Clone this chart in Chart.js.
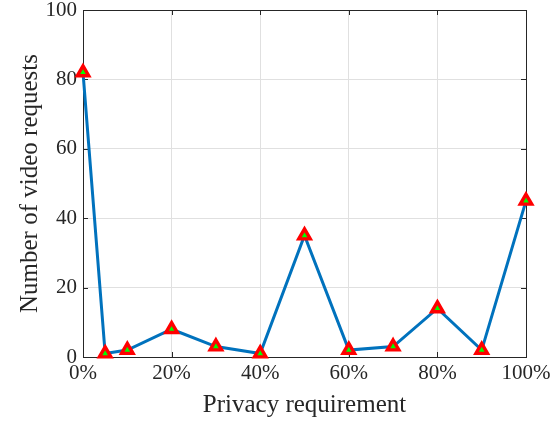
<!DOCTYPE html>
<html>
<head>
<meta charset="utf-8">
<script src="https://cdn.jsdelivr.net/npm/chart.js@4/dist/chart.umd.min.js"></script>
<style>
  html, body { margin: 0; padding: 0; background: #fff; }
  #wrap { width: 558px; height: 424px; }
</style>
</head>
<body>
<div id="wrap"><canvas id="c"></canvas></div>
<script>
// Privacy requirement levels (%) and number of video requests at each level
const privacyLevels = [0, 5, 10, 20, 30, 40, 50, 60, 70, 80, 90, 100];
const videoRequests = [82, 1, 2, 8, 3, 1, 35, 2, 3, 14, 2, 45];
const xTicks = [0, 20, 40, 60, 80, 100];
const yTicks = [0, 20, 40, 60, 80, 100];

const serif = '"Liberation Serif", "Times New Roman", serif';
const axisColor = '#262626';

// Closed axes box with inward tick marks on all four sides
const boxPlugin = {
  id: 'axesBox',
  beforeDatasetsDraw(chart) {
    const { ctx, chartArea: a, scales } = chart;
    const len = 5;
    ctx.save();
    ctx.strokeStyle = axisColor;
    ctx.lineWidth = 1;
    ctx.beginPath();
    xTicks.forEach(v => {
      const px = Math.round(scales.x.getPixelForValue(v)) + 0.5;
      ctx.moveTo(px, a.bottom); ctx.lineTo(px, a.bottom - len);
      ctx.moveTo(px, a.top); ctx.lineTo(px, a.top + len);
    });
    yTicks.forEach(v => {
      const py = Math.round(scales.y.getPixelForValue(v)) + 0.5;
      ctx.moveTo(a.left, py); ctx.lineTo(a.left + len, py);
      ctx.moveTo(a.right, py); ctx.lineTo(a.right - len, py);
    });
    ctx.stroke();
    ctx.strokeRect(Math.round(a.left) + 0.5, Math.round(a.top) + 0.5,
                   Math.round(a.right - a.left), Math.round(a.bottom - a.top));
    ctx.restore();
  }
};

new Chart(document.getElementById('c'), {
  type: 'line',
  data: {
    datasets: [{
      data: privacyLevels.map((x, i) => ({ x, y: videoRequests[i] })),
      borderColor: '#0072BD',
      borderWidth: 3,
      tension: 0,
      fill: false,
      clip: false,
      pointStyle: 'triangle',
      pointRadius: 6.6,
      pointBorderWidth: 3.4,
      pointBackgroundColor: '#00ff00',
      pointBorderColor: '#ff0000',
      pointHoverRadius: 6.6
    }]
  },
  options: {
    responsive: true,
    maintainAspectRatio: false,
    animation: false,
    events: [],
    layout: { padding: { left: 0, top: 10, right: 32, bottom: 0 } },
    plugins: { legend: { display: false }, tooltip: { enabled: false } },
    scales: {
      x: {
        type: 'linear',
        min: 0, max: 100,
        afterBuildTicks: s => { s.ticks = xTicks.map(v => ({ value: v })); },
        afterFit: s => { s.height = 67; s.paddingLeft = 0; s.paddingRight = 0; },
        ticks: {
          callback: v => v + '%',
          color: axisColor,
          font: { family: serif, size: 21 },
          padding: 4,
          maxRotation: 0
        },
        grid: { color: '#e0e0e0', lineWidth: 1, drawTicks: false },
        border: { display: false },
        title: {
          display: true,
          text: 'Privacy requirement',
          color: axisColor,
          font: { family: serif, size: 25 },
          padding: { top: 0, bottom: 4 }
        }
      },
      y: {
        min: 0, max: 100,
        afterBuildTicks: s => { s.ticks = yTicks.map(v => ({ value: v })); },
        afterFit: s => { s.width = 83; s.paddingTop = 0; s.paddingBottom = 0; },
        ticks: {
          color: axisColor,
          font: { family: serif, size: 21 },
          padding: 6
        },
        grid: { color: '#e0e0e0', lineWidth: 1, drawTicks: false },
        border: { display: false },
        title: {
          display: true,
          text: 'Number of video requests',
          color: axisColor,
          font: { family: serif, size: 25 },
          padding: { top: 15, bottom: 0 }
        }
      }
    }
  },
  plugins: [boxPlugin]
});
</script>
</body>
</html>
